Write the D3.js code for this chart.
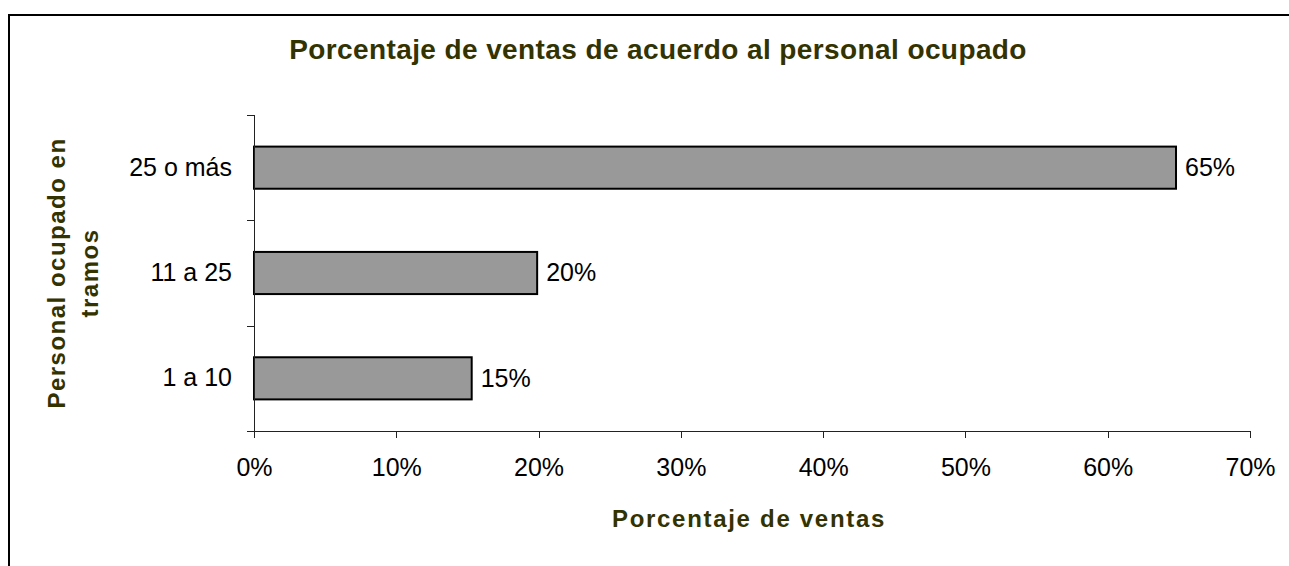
<!DOCTYPE html>
<html>
<head>
<meta charset="utf-8">
<script src="https://cdn.jsdelivr.net/npm/d3@7"></script>
<style>
  html, body { margin: 0; padding: 0; background: #fff; }
  svg { display: block; font-family: "Liberation Sans", Arial, sans-serif; }
</style>
</head>
<body>
<script>
const categories = ["1 a 10", "11 a 25", "25 o más"];
const values = [15.3, 19.9, 64.8];
const xTicks = [0, 10, 20, 30, 40, 50, 60, 70];
const chartTitle = "Porcentaje de ventas de acuerdo al personal ocupado";
const xTitle = "Porcentaje de ventas";
const yTitleLines = ["Personal ocupado en", "tramos"];

const W = 1289, H = 566;
const plot = { left: 254, right: 1250, top: 115, bottom: 431 };
const titleColor = "#333300";

const svg = d3.select("body").append("svg").attr("width", W).attr("height", H);

// outer border (extends past right/bottom edges)
svg.append("rect")
  .attr("x", 9).attr("y", 15).attr("width", 1400).attr("height", 700)
  .attr("fill", "none").attr("stroke", "#000").attr("stroke-width", 2);

const x = d3.scaleLinear().domain([0, 70]).range([plot.left, plot.right]);
const y = d3.scaleBand().domain(categories).range([plot.bottom, plot.top])
  .paddingInner(0.6).paddingOuter(0.3);

// bars
svg.append("g").selectAll("rect")
  .data(categories)
  .join("rect")
  .attr("x", x(0))
  .attr("y", d => y(d))
  .attr("width", (d, i) => x(values[i]) - x(0))
  .attr("height", y.bandwidth())
  .attr("fill", "#999999")
  .attr("stroke", "#000")
  .attr("stroke-width", 2);

// value labels
svg.append("g").selectAll("text")
  .data(categories)
  .join("text")
  .attr("x", (d, i) => x(values[i]) + 9)
  .attr("y", d => y(d) + y.bandwidth() / 2)
  .attr("dy", "0.33em")
  .attr("font-size", 25)
  .attr("fill", "#000")
  .text((d, i) => Math.round(values[i]) + "%");

// x axis
const xAxis = svg.append("g")
  .attr("transform", `translate(0,${plot.bottom})`)
  .call(d3.axisBottom(x).tickValues(xTicks).tickFormat(d => d + "%")
    .tickSize(7).tickPadding(20).tickSizeOuter(0));
xAxis.select(".domain").attr("stroke", "#222").attr("shape-rendering", "crispEdges")
  .attr("d", `M${plot.left - 7},0.5H${plot.right}`);
xAxis.selectAll(".tick line").attr("stroke", "#222").attr("shape-rendering", "crispEdges");
xAxis.selectAll(".tick text").attr("font-size", 25).attr("fill", "#000")
  .attr("font-family", "Liberation Sans, Arial, sans-serif");

// y axis
const yAxis = svg.append("g")
  .attr("transform", `translate(${plot.left},0)`)
  .call(d3.axisLeft(y).tickSize(0).tickPadding(22));
yAxis.select(".domain").attr("stroke", "#222").attr("shape-rendering", "crispEdges")
  .attr("d", `M0.5,${plot.top}V${plot.bottom + 7}`);
yAxis.selectAll(".tick text").attr("font-size", 25).attr("fill", "#000")
  .attr("font-family", "Liberation Sans, Arial, sans-serif");
// boundary ticks between categories
const step = y.step();
const bounds = categories.map(c => y(c) - step * y.paddingInner() / 2)
  .concat([y(categories[0]) + y.bandwidth() + step * y.paddingInner() / 2]);
yAxis.selectAll("line.bt").data(bounds).join("line")
  .attr("class", "bt")
  .attr("x1", -7).attr("x2", 0)
  .attr("y1", d => Math.round(d) + 0.5).attr("y2", d => Math.round(d) + 0.5)
  .attr("stroke", "#222").attr("shape-rendering", "crispEdges");

// title
svg.append("text")
  .attr("x", 658).attr("y", 59)
  .attr("text-anchor", "middle")
  .attr("font-size", 28).attr("font-weight", "bold")
  .attr("letter-spacing", 0.4)
  .attr("fill", titleColor)
  .text(chartTitle);

// x title
svg.append("text")
  .attr("x", 749).attr("y", 527)
  .attr("text-anchor", "middle")
  .attr("font-size", 24).attr("font-weight", "bold")
  .attr("letter-spacing", 1.7)
  .attr("fill", titleColor)
  .text(xTitle);

// y title
const yt = svg.append("text")
  .attr("transform", `translate(65,${(plot.top + plot.bottom) / 2}) rotate(-90)`)
  .attr("text-anchor", "middle")
  .attr("font-size", 24).attr("font-weight", "bold")
  .attr("letter-spacing", 1.5)
  .attr("fill", titleColor);
yt.selectAll("tspan").data(yTitleLines).join("tspan")
  .attr("x", 0)
  .attr("dy", (d, i) => i === 0 ? 0 : 33)
  .text(d => d);
</script>
</body>
</html>
